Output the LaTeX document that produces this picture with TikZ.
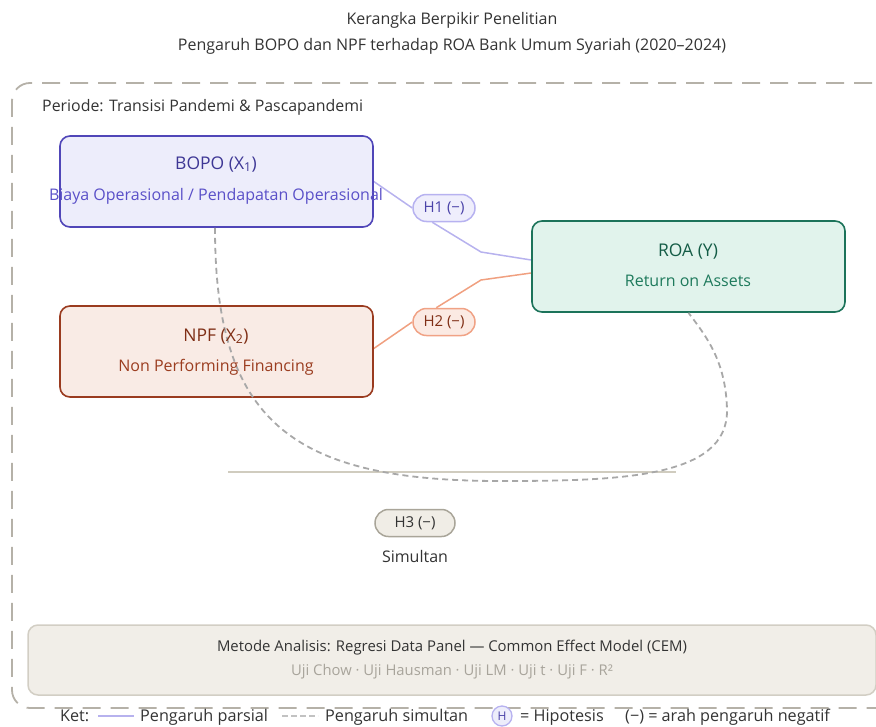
\documentclass[tikz,border=0pt]{standalone}
\usepackage{fontspec}
\setmainfont{Open Sans}
\usetikzlibrary{backgrounds}

\definecolor{inkgrey}{HTML}{333333}
\definecolor{framegrey}{HTML}{B5B1A8}
\definecolor{bopofill}{HTML}{EDEDFB}
\definecolor{bopoline}{HTML}{5046B8}
\definecolor{bopotitle}{HTML}{3E3795}
\definecolor{boposub}{HTML}{5A50C8}
\definecolor{npffill}{HTML}{F9EBE5}
\definecolor{npfline}{HTML}{9A3B1F}
\definecolor{npftitle}{HTML}{7F2E15}
\definecolor{npfsub}{HTML}{9B3D20}
\definecolor{roafill}{HTML}{E1F3EC}
\definecolor{roaline}{HTML}{1C735A}
\definecolor{roatitle}{HTML}{145C46}
\definecolor{roasub}{HTML}{1E7A5C}
\definecolor{hafill}{HTML}{EFEEFC}
\definecolor{haline}{HTML}{B7B2F0}
\definecolor{hatext}{HTML}{4A42A8}
\definecolor{hbfill}{HTML}{FBEAE3}
\definecolor{hbline}{HTML}{F0A285}
\definecolor{hbtext}{HTML}{7F2E15}
\definecolor{hcfill}{HTML}{F0EDE6}
\definecolor{hcline}{HTML}{A9A599}
\definecolor{partialline}{HTML}{B7B2EE}
\definecolor{partialorange}{HTML}{F0A080}
\definecolor{simline}{HTML}{A8A8A8}
\definecolor{floorgrey}{HTML}{D0CCBF}
\definecolor{methodfill}{HTML}{F1EEE8}
\definecolor{methodline}{HTML}{D2CEC4}
\definecolor{methodsub}{HTML}{A8A49B}

\tikzset{
  varbox/.style={draw, line width=1.6pt, rounded corners=10pt,
    minimum width=313pt, minimum height=91pt, inner sep=0pt},
  hpill/.style={draw, line width=1.5pt, rounded corners=13.5pt,
    minimum width=62pt, minimum height=27pt, inner sep=0pt,
    font=\fontsize{15}{17}\selectfont},
  partial/.style={line width=1.5pt},
  simultan/.style={draw=simline, line width=1.8pt, dash pattern=on 6pt off 4pt},
  plain/.style={inner sep=0pt, anchor=base},
  headfont/.style={font=\fontsize{17.5}{20}\selectfont},
  subfont/.style={font=\fontsize{16}{18}\selectfont},
}

\begin{document}
\begin{tikzpicture}[x=1pt,y=-1pt]
\useasboundingbox (0,0) rectangle (876,726);

% titles
\node[plain, text=inkgrey, font=\fontsize{16}{18}\selectfont] (t1) at (452,24) {Kerangka Berpikir Penelitian};
\node[plain, text=inkgrey, font=\fontsize{16}{18}\selectfont] (t2) at (452,50) {Pengaruh BOPO dan NPF terhadap ROA Bank Umum Syariah (2020–2024)};

% variable boxes (frames first, labels after the simultaneous curve)
\node[varbox, draw=bopoline, fill=bopofill] (bopo) at (216.5,181.5) {};
\node[varbox, draw=npfline, fill=npffill] (npf) at (216.5,351.5) {};
\node[varbox, draw=roaline, fill=roafill] (roa) at (688.5,266.5) {};

% simultaneous effect, drawn over the box fills
\coordinate (low) at (500,481);
\coordinate (turn) at (727,410);
\draw[simultan] ([xshift=-1.5pt]bopo.south)
  .. controls (215,420) and (290,481) .. (low)
  .. controls (620,481) and (728,478) .. (turn)
  .. controls (726,360) and (705,335) .. (roa.south);

% box labels
\node[plain, text=bopotitle, headfont] (bopot) at (216,169) {BOPO (X\textsubscript{1})};
\node[plain, text=boposub, subfont] (bopos) at (216,200) {Biaya Operasional / Pendapatan Operasional};
\node[plain, text=npftitle, headfont] (npft) at (216,341) {NPF (X\textsubscript{2})};
\node[plain, text=npfsub, subfont] (npfs) at (216,371) {Non Performing Financing};
\node[plain, text=roatitle, headfont] (roat) at (688,256) {ROA (Y)};
\node[plain, text=roasub, subfont] (roas) at (688,286) {Return on Assets};

% hypothesis pills
\node[hpill, draw=haline, fill=hafill, text=hatext] (h1) at (444,208) {H1 (−)};
\node[hpill, draw=hbline, fill=hbfill, text=hbtext] (h2) at (444,322) {H2 (−)};
\node[hpill, draw=hcline, fill=hcfill, text=inkgrey, minimum width=80pt] (h3) at (415,523) {H3 (−)};
\node[plain, text=inkgrey, subfont] (sim) at (415,562) {Simultan};

% period label
\node[plain, anchor=base west, text=inkgrey, font=\fontsize{15.9}{18}\selectfont] (period) at (42,111) {Periode: Transisi Pandemi \& Pascapandemi};

% method box
\node[draw=methodline, fill=methodfill, line width=1.5pt, rounded corners=10pt,
      minimum width=848pt, minimum height=70pt, inner sep=0pt] (method) at (452,660) {};
\node[plain, text=inkgrey, font=\fontsize{14.9}{17}\selectfont] (mt) at (452,651) {Metode Analisis: Regresi Data Panel — Common Effect Model (CEM)};
\node[plain, text=methodsub, font=\fontsize{14.8}{17}\selectfont] (ms) at (452,675) {Uji Chow · Uji Hausman · Uji LM · Uji t · Uji F · R²};

% legend
\tikzset{legfont/.style={font=\fontsize{16.2}{18}\selectfont}}
\node[plain, anchor=base west, text=inkgrey, legfont] (ket) at (60,721) {Ket:};
\coordinate (lpA) at (98,716);
\coordinate (lpB) at (134,716);
\node[plain, anchor=base west, text=inkgrey, legfont] (lp) at (140,721) {Pengaruh parsial};
\coordinate (lsA) at (282,716);
\coordinate (lsB) at (318,716);
\node[plain, anchor=base west, text=inkgrey, legfont] (ls) at (325,721) {Pengaruh simultan};
\node[circle, draw=haline, fill=bopofill, line width=1.3pt, minimum size=20pt, inner sep=0pt,
      text=hatext, font=\fontsize{12}{14}\selectfont] (lh) at (502,716) {H};
\node[plain, anchor=base west, text=inkgrey, legfont] (lht) at (520,721) {= Hipotesis};
\node[plain, anchor=base west, text=inkgrey, legfont] (lneg) at (625,721) {(−) = arah pengaruh negatif};

\begin{pgfonlayer}{background}
  % outer period frame
  \draw[framegrey, line width=1.8pt, dash pattern=on 18pt off 10pt, rounded corners=18pt]
    (900,83) -- (12,83) -- (12,708) -- (900,708);
  % partial effects
  \coordinate (k1) at (481,252);
  \coordinate (k2) at (481,280);
  \draw[partial, partialline] (bopo.east) -- (h1.west);
  \draw[partial, partialline] (h1.south west) ++(20,0) -- (k1) -- ([yshift=6.5pt]roa.west);
  \draw[partial, partialorange] ([yshift=3pt]npf.east) -- (h2.west);
  \draw[partial, partialorange] (h2.north west) ++(24,0) -- (k2) -- ([yshift=-6.5pt]roa.west);
  % ground line of the simultaneous effect
  \coordinate (b1) at (228,472);
  \coordinate (b2) at (676,472);
  \draw[floorgrey, line width=2.5pt] (b1) -- (b2);
  % legend samples
  \draw[partialline, line width=2.2pt] (lpA) -- (lpB);
  \draw[simline!70, line width=2.2pt, dash pattern=on 6pt off 3pt] (lsA) -- (lsB);
\end{pgfonlayer}
\end{tikzpicture}
\end{document}
